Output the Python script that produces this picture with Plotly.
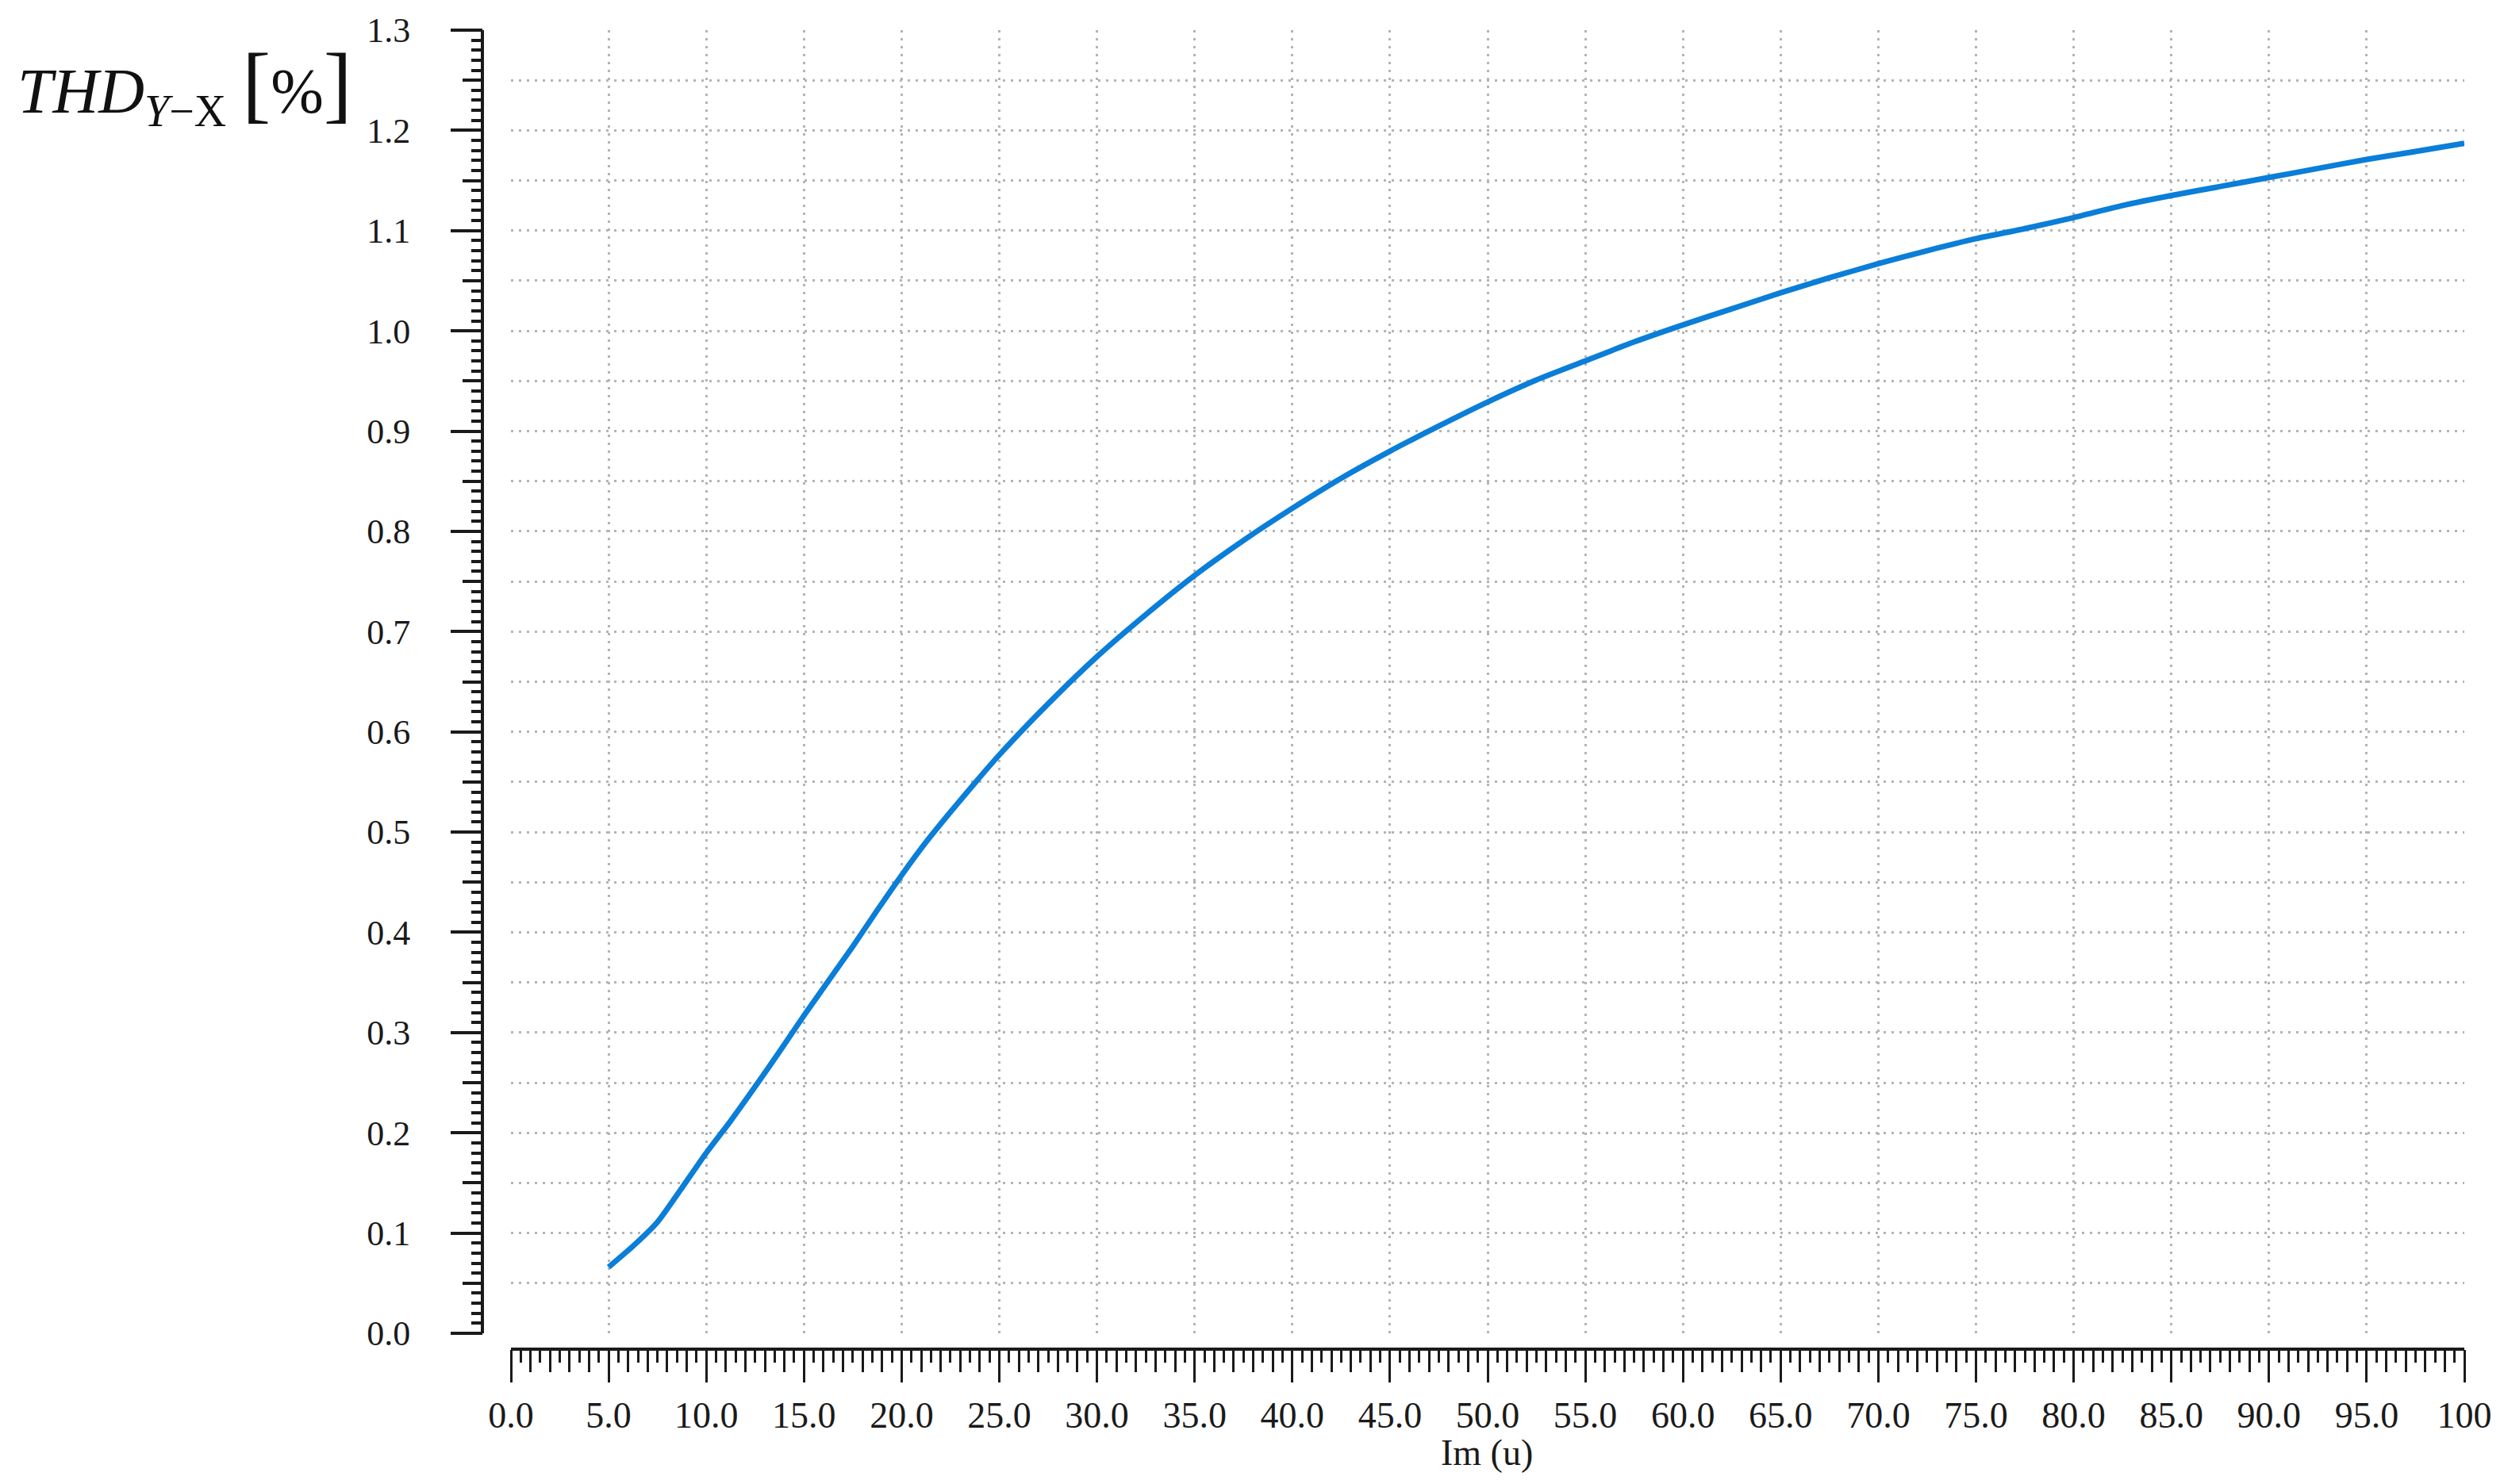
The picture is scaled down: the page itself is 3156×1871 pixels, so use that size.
import plotly.graph_objs as go

# data
im_u = [5, 6.25, 7.5, 8.75, 10, 11.25, 12.5, 13.75, 15, 17.5, 18.75, 20, 21.25,
        22.5, 23.75, 25, 27.5, 30, 32.5, 35, 37.5, 40,
        42.5, 45, 47.5, 50, 52.5, 55, 57.5, 60, 62.5, 65, 67.5, 70, 72.5, 75,
        77.5, 80, 82.5, 85, 87.5, 90, 92.5, 95, 97.5, 100]
thd = [0.066, 0.087, 0.111, 0.145, 0.180, 0.212, 0.246, 0.281, 0.317, 0.386, 0.422,
       0.457, 0.490, 0.520, 0.549, 0.577, 0.628,
       0.675, 0.717, 0.756, 0.791, 0.823, 0.853, 0.880, 0.905, 0.929, 0.951,
       0.970, 0.989, 1.006, 1.022, 1.038, 1.053, 1.067, 1.080, 1.092, 1.102,
       1.113, 1.125, 1.135, 1.144, 1.153, 1.162, 1.171, 1.179, 1.187]

x_tickvals = [0, 5, 10, 15, 20, 25, 30, 35, 40, 45, 50, 55, 60, 65, 70, 75, 80, 85, 90, 95, 100]
x_ticktext = ["0.0", "5.0", "10.0", "15.0", "20.0", "25.0", "30.0", "35.0", "40.0", "45.0",
              "50.0", "55.0", "60.0", "65.0", "70.0", "75.0", "80.0", "85.0", "90.0", "95.0", "100"]

W, H = 3140, 1855
font = "Liberation Serif"
ink = "#1a1a1a"
grid = dict(showgrid=True, gridcolor="#b4b4b4", gridwidth=3, griddash="3px,7px")

fig = go.Figure()
fig.add_trace(go.Scatter(x=im_u, y=thd, mode="lines",
                         line=dict(color="#0a7ed8", width=7, shape="spline", smoothing=0.6),
                         showlegend=False))
# invisible copy so the overlay axes (extra tick levels) get drawn
fig.add_trace(go.Scatter(x=im_u, y=thd, mode="lines", xaxis="x2", yaxis="y2",
                         line=dict(color="rgba(0,0,0,0)", width=0),
                         hoverinfo="skip", showlegend=False))

xdom = [636 / W, 3098 / W]
ydom = [1 - 1673 / H, 1 - 30 / H]
xpos = 1 - 1693 / H
ypos = 600 / W

fig.update_layout(
    template="none", width=W, height=H,
    margin=dict(l=0, r=0, t=0, b=0),
    paper_bgcolor="white", plot_bgcolor="white",
    font=dict(family=font, size=46, color=ink),
    xaxis=dict(domain=xdom, anchor="free", position=xpos, range=[0, 100],
               tickvals=x_tickvals, ticktext=x_ticktext,
               ticks="outside", ticklen=40, tickwidth=3, tickcolor=ink,
               showline=True, linewidth=4, linecolor=ink,
               minor=dict(dtick=0.5, ticks="outside", ticklen=15, tickwidth=3,
                          tickcolor=ink, showgrid=False),
               zeroline=False, automargin=False, ticklabelstandoff=2,
               showgrid=True, gridcolor="#b4b4b4", gridwidth=3, griddash="3px,7px"),
    xaxis2=dict(domain=xdom, overlaying="x", anchor="free", position=xpos, range=[0, 100],
                dtick=1, ticks="outside", ticklen=28, tickwidth=3, tickcolor=ink,
                showticklabels=False, showgrid=False, zeroline=False, automargin=False),
    yaxis=dict(domain=ydom, anchor="free", position=ypos, range=[0, 1.3],
               dtick=0.1, tickformat=".1f", tickfont=dict(size=44),
               ticks="outside", ticklen=38, tickwidth=4, tickcolor=ink,
               showline=True, linewidth=4, linecolor=ink,
               minor=dict(dtick=0.01, ticks="outside", ticklen=12, tickwidth=4,
                          tickcolor=ink, showgrid=False),
               zeroline=False, automargin=False, ticklabelstandoff=42, showgrid=False),
    yaxis2=dict(domain=ydom, overlaying="y", anchor="free", position=ypos, range=[0, 1.3],
                dtick=0.05, ticks="outside", ticklen=25, tickwidth=4, tickcolor=ink,
                showticklabels=False, zeroline=False, automargin=False, **grid),
)

fig.add_annotation(
    xref="paper", yref="paper", x=12 / W, y=1 - 100 / H, xanchor="left", yanchor="middle",
    showarrow=False, font=dict(family=font, size=80, color="#111"),
    text="<i>THD</i><sub><i>Y</i>−X</sub> <span style='font-size:108px'>[</span>"
         "%<span style='font-size:108px'>]</span>",
)
fig.add_annotation(
    xref="paper", yref="paper", x=(1874 - 8) / W, y=1 - 1823 / H, xanchor="center", yanchor="middle",
    showarrow=False, font=dict(family=font, size=46, color=ink), text="Im (u)",
)

fig.write_html("out.html")
